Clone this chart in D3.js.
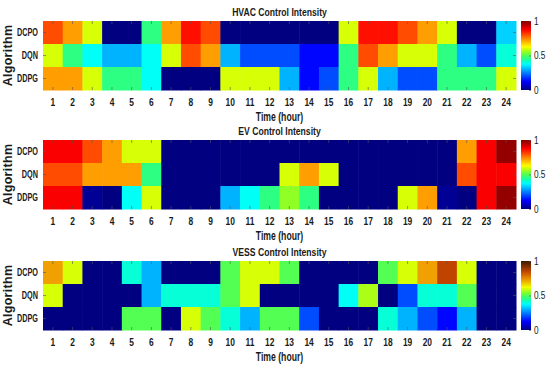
<!DOCTYPE html>
<html>
<head>
<meta charset="utf-8">
<script src="https://cdn.jsdelivr.net/npm/d3@7"></script>
<style>
  body { margin: 0; background: #fff; }
  svg { display: block; font-family: "Liberation Sans", Arial, sans-serif; }
  .lbl { font-weight: bold; fill: #1a1a1a; }
</style>
</head>
<body>
<svg id="chart" width="550" height="369"></svg>
<script>
// categories
const hours = d3.range(1, 25);
const algorithms = ["DCPO", "DQN", "DDPG"];
const barTicks = [0, 0.5, 1];

// HVAC intensities (hour 1..24)
const hvacDCPO = [0.8, 0.72, 0.6, 0, 0, 0.46, 0.72, 0.86, 0.8, 0, 0, 0, 0, 0, 0, 0.6, 0.86, 0.86, 0.8, 0.72, 0.6, 0, 0, 0.33];
const hvacDQN  = [0.6, 0.46, 0.38, 0.3, 0.3, 0.38, 0.6, 0.8, 0.72, 0.3, 0.2, 0.2, 0.2, 0.13, 0.13, 0.46, 0.8, 0.72, 0.6, 0.6, 0.46, 0.3, 0.2, 0.4];
const hvacDDPG = [0.72, 0.72, 0.6, 0.46, 0.46, 0.38, 0, 0, 0, 0.6, 0.6, 0.6, 0.3, 0.13, 0.2, 0.46, 0.6, 0.3, 0.2, 0.2, 0.46, 0.46, 0.46, 0.6];

// EV intensities
const evDCPO = [0.88, 0.88, 0.8, 0.72, 0.6, 0.6, 0, 0, 0, 0, 0, 0, 0, 0, 0, 0, 0, 0, 0, 0, 0, 0.72, 0.88, 0.98];
const evDQN  = [0.8, 0.8, 0.72, 0.72, 0.72, 0.46, 0, 0, 0, 0, 0, 0, 0.6, 0.72, 0.6, 0, 0, 0, 0, 0, 0, 0.8, 0.88, 0.88];
const evDDPG = [0.88, 0.88, 0.02, 0, 0.38, 0.6, 0, 0, 0, 0.3, 0.38, 0.46, 0.55, 0.46, 0, 0, 0, 0, 0.6, 0.72, 0.02, 0, 0.88, 0.98];

// VESS intensities
const vessDCPO = [0.72, 0.6, 0, 0, 0.4, 0.3, 0, 0, 0, 0.5, 0.6, 0.6, 0.5, 0, 0, 0, 0, 0.5, 0.6, 0.72, 0.85, 0.6, 0, 0];
const vessDQN  = [0.6, 0, 0, 0, 0, 0.3, 0.4, 0.4, 0.4, 0.5, 0.6, 0, 0, 0, 0, 0.38, 0.57, 0, 0.2, 0.4, 0.4, 0.5, 0, 0];
const vessDDPG = [0, 0, 0, 0, 0.5, 0.5, 0, 0.6, 0.5, 0.4, 0.3, 0.5, 0.5, 0.2, 0, 0, 0, 0.4, 0.3, 0.2, 0.13, 0.3, 0, 0];

// jet colormap (mid greens a little deeper, like the printed figure)
function jet(v) {
  const cl = t => Math.max(0, Math.min(1, t));
  let r = cl(1.5 - Math.abs(4 * v - 3)), g = cl(1.5 - Math.abs(4 * v - 2)), b = cl(1.5 - Math.abs(4 * v - 1));
  if (v > 0.375 && v < 0.625) { r = Math.pow(r, 1.6); b = Math.pow(b, 1.6); }
  return d3.rgb(255 * r, 255 * g, 255 * b).formatHex();
}
// VESS uses jet at the low end and runs to brown at the top
const vessTop = d3.scaleLinear()
    .domain([0.62, 0.72, 0.85, 1])
    .range(["#e8ff00", "#f0a000", "#c04400", "#3a1a00"]);
function vessMap(v) { return v <= 0.62 ? jet(v) : vessTop(v); }

const panels = [
  {title: "HVAC Control Intensity", rows: [hvacDCPO, hvacDQN, hvacDDPG], top: 21, color: jet},
  {title: "EV Control Intensity", rows: [evDCPO, evDQN, evDDPG], top: 140, color: jet},
  {title: "VESS Control Intensity", rows: [vessDCPO, vessDQN, vessDDPG], top: 261, color: vessMap}
];

const svg = d3.select("#chart");
const left = 43, right = 516, ph = 69;
const cbX = 521, cbW = 10;

const x = d3.scaleBand().domain(hours).range([left, right]);

// the figure text is horizontally narrow, squeeze glyphs to match
function squeeze(sel, k) {
  sel.each(function() {
    const w = this.getComputedTextLength();
    if (w > 0) d3.select(this).attr("textLength", w * k).attr("lengthAdjust", "spacingAndGlyphs");
  });
}

panels.forEach(function(p, pi) {
  const y = d3.scaleBand().domain(algorithms).range([p.top, p.top + ph]);
  const g = svg.append("g");

  // cells
  const cells = [];
  p.rows.forEach((row, ri) => row.forEach((v, hi) => cells.push({alg: algorithms[ri], hour: hours[hi], v: v})));
  g.selectAll("rect.cell")
    .data(cells)
    .join("rect")
    .attr("class", "cell")
    .attr("x", d => x(d.hour))
    .attr("y", d => y(d.alg))
    .attr("width", x.bandwidth() + 0.5)
    .attr("height", y.bandwidth() + 0.5)
    .attr("fill", d => p.color(d.v));

  // inward tick marks on all four sides
  const tickStyle = sel => {
    sel.select(".domain").remove();
    sel.selectAll(".tick line").attr("stroke", "#555").attr("stroke-width", 0.6);
  };
  g.append("g").attr("transform", `translate(0,${p.top + ph})`)
    .call(d3.axisBottom(x).tickSize(-3).tickPadding(9))
    .call(tickStyle)
    .call(s => s.selectAll("text").attr("class", "lbl").attr("font-size", 10.5).attr("font-family", null).call(squeeze, 0.8));
  g.append("g").attr("transform", `translate(0,${p.top})`)
    .call(d3.axisTop(x).tickSize(-3).tickFormat(""))
    .call(tickStyle);
  g.append("g").attr("transform", `translate(${left},0)`)
    .call(d3.axisLeft(y).tickSize(-3).tickPadding(5))
    .call(tickStyle)
    .call(s => s.selectAll("text").attr("class", "lbl").attr("font-size", 11).attr("font-family", null).call(squeeze, 0.66));
  g.append("g").attr("transform", `translate(${right},0)`)
    .call(d3.axisRight(y).tickSize(-3).tickFormat(""))
    .call(tickStyle);

  // titles
  g.append("text").attr("class", "lbl")
    .attr("x", (left + right) / 2).attr("y", p.top - 5)
    .attr("text-anchor", "middle").attr("font-size", 11.5)
    .text(p.title).call(squeeze, 0.75);
  g.append("text").attr("class", "lbl")
    .attr("x", (left + right) / 2).attr("y", p.top + ph + 31)
    .attr("text-anchor", "middle").attr("font-size", 12)
    .text("Time (hour)").call(squeeze, 0.72);
  g.append("text").attr("class", "lbl")
    .attr("transform", `translate(12,${p.top + ph / 2}) rotate(-90)`)
    .attr("text-anchor", "middle").attr("font-size", 12.5)
    .attr("letter-spacing", 0.3)
    .text("Algorithm");

  // colorbar
  const grad = svg.append("defs").append("linearGradient")
    .attr("id", "cb" + pi).attr("x1", 0).attr("x2", 0).attr("y1", 1).attr("y2", 0);
  grad.selectAll("stop")
    .data(d3.range(0, 1.0001, 0.02))
    .join("stop")
    .attr("offset", d => d)
    .attr("stop-color", d => p.color(d));
  const cy = d3.scaleLinear().domain([0, 1]).range([p.top + ph, p.top]);
  g.append("rect")
    .attr("x", cbX).attr("y", p.top).attr("width", cbW).attr("height", ph)
    .attr("fill", `url(#cb${pi})`);
  g.append("g").attr("transform", `translate(${cbX + cbW},0)`)
    .call(d3.axisRight(cy).tickValues(barTicks).tickFormat(d3.format("")).tickSize(-2).tickPadding(3))
    .call(tickStyle)
    .call(s => s.selectAll("text").attr("font-size", 10).attr("fill", "#1a1a1a").attr("font-family", null).call(squeeze, 0.82));
});
</script>
</body>
</html>
